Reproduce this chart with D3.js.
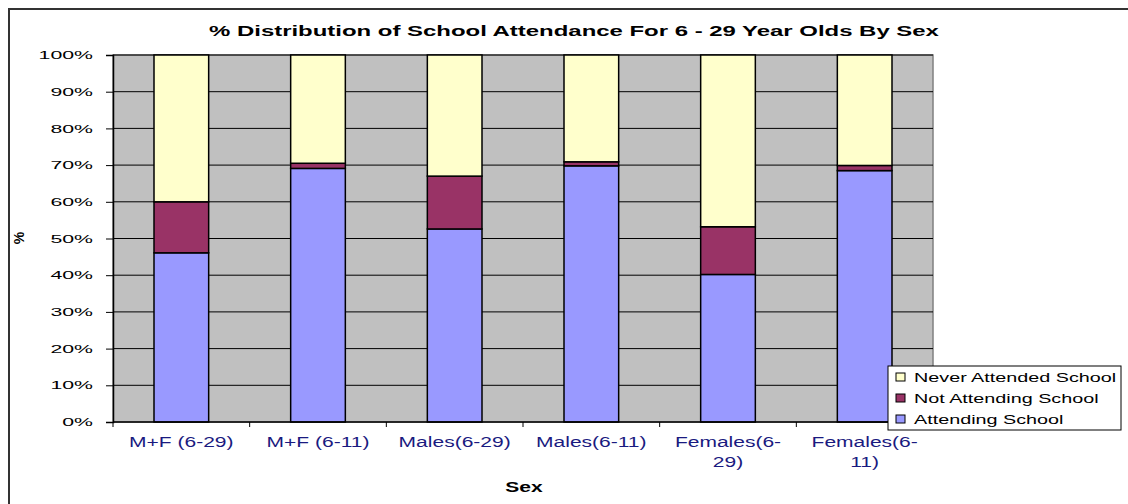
<!DOCTYPE html>
<html>
<head>
<meta charset="utf-8">
<script src="https://cdn.jsdelivr.net/npm/d3@7"></script>
<style>
    body { margin: 0; background: #fff; }
    text { font-family: "Liberation Sans", Arial, sans-serif; }
</style>
</head>
<body>
<script>
let categories = [["M+F (6-29)"], ["M+F (6-11)"], ["Males(6-29)"], ["Males(6-11)"], ["Females(6-", "29)"], ["Females(6-", "11)"]];
let seriesNames = ["Attending School", "Not Attending School", "Never Attended School"];
let attending = [46.1, 69.1, 52.6, 69.8, 40.2, 68.5];
let notAttending = [13.9, 1.4, 14.4, 1.1, 13.0, 1.4];
let neverAttended = [40.0, 29.5, 33.0, 29.1, 46.8, 30.1];
let yTicks = [0, 10, 20, 30, 40, 50, 60, 70, 80, 90, 100];
let colors = ["#9999ff", "#993366", "#ffffcc"];

let width = 1128, height = 504;
let margin = {top: 55, right: 195, bottom: 82, left: 113};

let svg = d3.select("body").append("svg")
    .attr("width", width)
    .attr("height", height);

// stretch text horizontally like the original picture
function stretch(sel, k) {
    sel.each(function () {
        let w = this.getComputedTextLength();
        d3.select(this).attr("textLength", w * k).attr("lengthAdjust", "spacingAndGlyphs");
    });
}

// outer chart frame
svg.append("path")
    .attr("d", "M9," + height + "V9H" + width)
    .attr("fill", "none")
    .attr("stroke", "#333")
    .attr("stroke-width", 2);

let x = d3.scaleBand()
    .domain(d3.range(categories.length))
    .range([margin.left, width - margin.right])
    .paddingInner(0.6)
    .paddingOuter(0.3);

let band = d3.scaleBand()
    .domain(d3.range(categories.length))
    .range([margin.left, width - margin.right]);

let y = d3.scaleLinear()
    .domain([0, 100])
    .range([height - margin.bottom, margin.top]);

// plot background
svg.append("rect")
    .attr("x", margin.left)
    .attr("y", margin.top)
    .attr("width", width - margin.right - margin.left)
    .attr("height", y(0) - y(100))
    .attr("fill", "#c0c0c0")
    .attr("stroke", "#808080")
    .attr("stroke-width", 1.5);

// gridlines
svg.append("g")
    .selectAll("line")
    .data(yTicks.slice(1))
    .enter().append("line")
    .attr("x1", margin.left)
    .attr("x2", width - margin.right)
    .attr("y1", d => y(d))
    .attr("y2", d => y(d))
    .attr("stroke", "#000")
    .attr("stroke-width", 1);

let stackData = categories.map((c, i) => ({i: i, a: attending[i], n: notAttending[i], v: neverAttended[i]}));
let stack = d3.stack().keys(["a", "n", "v"]);
let layers = stack(stackData);

svg.append("g")
    .selectAll("g")
    .data(layers)
    .enter().append("g")
    .attr("fill", (d, k) => colors[k])
    .selectAll("rect")
    .data(d => d)
    .enter().append("rect")
    .attr("x", d => x(d.data.i))
    .attr("width", x.bandwidth())
    .attr("y", d => y(d[1]))
    .attr("height", d => y(d[0]) - y(d[1]))
    .attr("stroke", "#000")
    .attr("stroke-width", 1.5);

// y axis
let yAxis = svg.append("g")
    .attr("transform", "translate(" + margin.left + ",0)")
    .call(d3.axisLeft(y).tickValues(yTicks).tickFormat(d => d + "%").tickSize(7).tickPadding(13));
yAxis.select(".domain").attr("stroke", "#000").attr("stroke-width", 1.5);
yAxis.selectAll("text")
    .attr("font-size", 11.5)
    .attr("fill", "#000")
    .attr("font-family", "Liberation Sans, Arial, sans-serif")
    .call(stretch, 1.85);

// x axis
let xAxis = svg.append("g")
    .attr("transform", "translate(0," + y(0) + ")");
xAxis.append("line")
    .attr("x1", margin.left)
    .attr("x2", width - margin.right)
    .attr("stroke", "#000")
    .attr("stroke-width", 1.5);
xAxis.selectAll(".tick")
    .data(d3.range(categories.length + 1))
    .enter().append("line")
    .attr("x1", d => margin.left + d * band.bandwidth())
    .attr("x2", d => margin.left + d * band.bandwidth())
    .attr("y2", 5)
    .attr("stroke", "#000");

let xLabels = svg.append("g")
    .selectAll("text")
    .data(categories)
    .enter().append("text")
    .attr("text-anchor", "middle")
    .attr("font-size", 14)
    .attr("fill", "#1a1a80");
xLabels.selectAll("tspan")
    .data((d, i) => d.map(s => ({s: s, i: i})))
    .enter().append("tspan")
    .attr("x", d => band(d.i) + band.bandwidth() / 2)
    .attr("y", (d, j) => y(0) + 25 + j * 20)
    .text(d => d.s)
    .call(stretch, 1.5);

// titles
svg.append("text")
    .attr("x", 574)
    .attr("y", 36)
    .attr("text-anchor", "middle")
    .attr("font-size", 14.5)
    .attr("font-weight", "bold")
    .text("% Distribution of School Attendance For 6 - 29 Year Olds By Sex")
    .call(stretch, 1.65);

svg.append("text")
    .attr("x", 524)
    .attr("y", 492)
    .attr("text-anchor", "middle")
    .attr("font-size", 14)
    .attr("font-weight", "bold")
    .text("Sex")
    .call(stretch, 1.5);

svg.append("text")
    .attr("transform", "translate(24,238) rotate(-90)")
    .attr("text-anchor", "middle")
    .attr("font-size", 14)
    .attr("font-weight", "bold")
    .text("%");

// legend
let legend = svg.append("g").attr("transform", "translate(888,366)");
legend.append("rect")
    .attr("width", 233)
    .attr("height", 64)
    .attr("fill", "#fff")
    .attr("stroke", "#000")
    .attr("stroke-width", 1);
let items = legend.selectAll(".item")
    .data([2, 1, 0])
    .enter().append("g")
    .attr("transform", (d, j) => "translate(8," + (11 + j * 21) + ")");
items.append("rect")
    .attr("x", 0)
    .attr("y", -4)
    .attr("width", 9)
    .attr("height", 8)
    .attr("fill", d => colors[d])
    .attr("stroke", "#000");
items.append("text")
    .attr("x", 18)
    .attr("y", 5)
    .attr("font-size", 13)
    .attr("fill", "#000")
    .text(d => seriesNames[d])
    .call(stretch, 1.52);
</script>
</body>
</html>
